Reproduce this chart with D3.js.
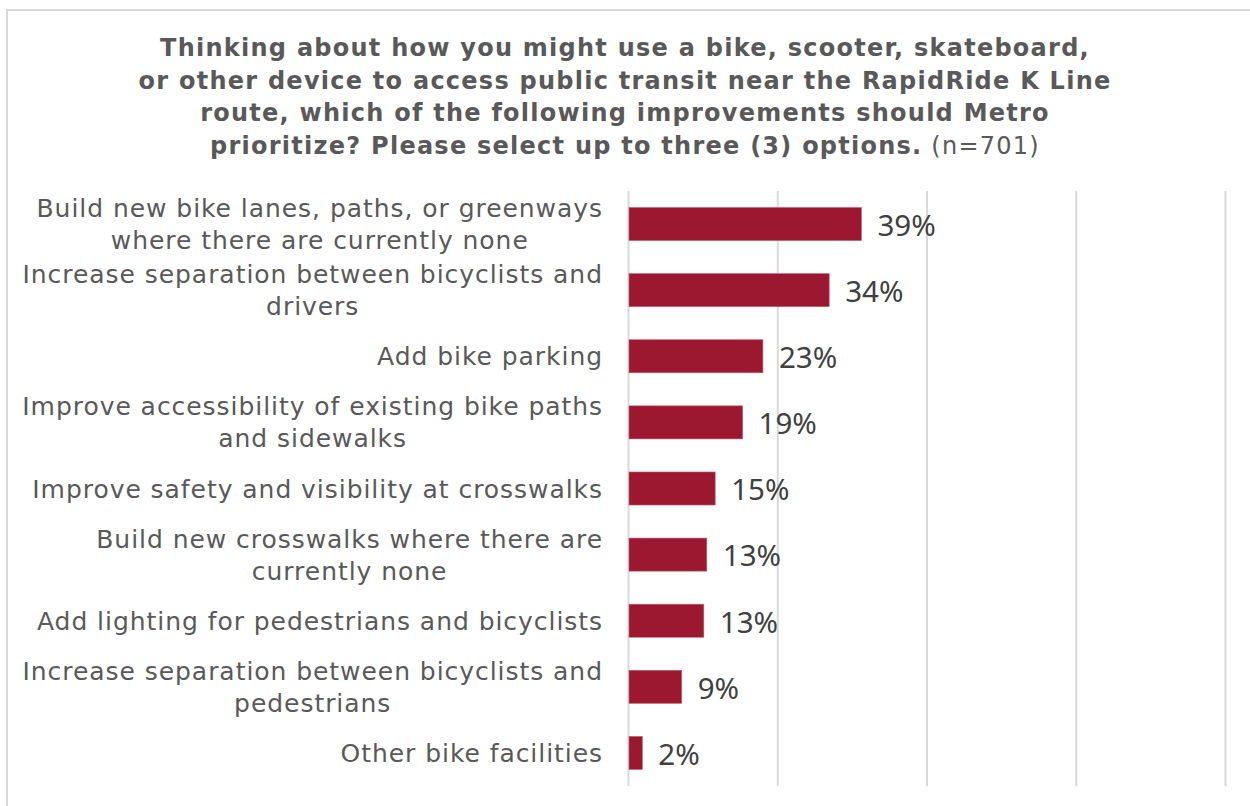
<!DOCTYPE html>
<html>
<head>
<meta charset="utf-8">
<script src="https://cdn.jsdelivr.net/npm/d3@7"></script>
<style>
  html, body { margin: 0; padding: 0; background: #fff; }
  svg { display: block; }
  .val { font-family: "Noto Sans", "Open Sans", sans-serif; font-size: 29.5px; fill: #404040; }
  .cat { font-family: "DejaVu Sans", Verdana, sans-serif; font-size: 25px; fill: #595959; letter-spacing: 0.95px; }
  .ttl { font-family: "DejaVu Sans", Verdana, sans-serif; font-size: 24px; fill: #595959; letter-spacing: 1.25px; }
</style>
</head>
<body>
<svg id="chart" width="1250" height="806"></svg>
<script>
// ---- data ----
const titleLines = [
  "Thinking about how you might use a bike, scooter, skateboard,",
  "or other device to access public transit near the RapidRide K Line",
  "route, which of the following improvements should Metro",
  "prioritize? Please select up to three (3) options."
];
const titleNote = "(n=701)";
const categories = [
  ["Build new bike lanes, paths, or greenways", "where there are currently none"],
  ["Increase separation between bicyclists and", "drivers"],
  ["Add bike parking"],
  ["Improve accessibility of existing bike paths", "and sidewalks"],
  ["Improve safety and visibility at crosswalks"],
  ["Build new crosswalks where there are", "currently none"],
  ["Add lighting for pedestrians and bicyclists"],
  ["Increase separation between bicyclists and", "pedestrians"],
  ["Other bike facilities"]
];
const values = [39.1, 33.7, 22.6, 19.2, 14.6, 13.2, 12.7, 9.0, 2.4];
const xTicks = [0, 25, 50, 75, 100];

// ---- layout ----
const svg = d3.select("#chart");
const plot = { left: 628, right: 1225, top: 191, bottom: 786 };
const barColor = "#9B1830";

// chart border
svg.append("rect")
  .attr("x", 7).attr("y", 10)
  .attr("width", 1260).attr("height", 820)
  .attr("fill", "none").attr("stroke", "#d9d9d9").attr("stroke-width", 2);

// title
const title = svg.append("text").attr("class", "ttl").attr("text-anchor", "middle");
titleLines.forEach((l, i) => {
  title.append("tspan").attr("x", 625).attr("y", 56 + i * 32.5)
    .attr("font-weight", "bold").text(l);
  if (i === titleLines.length - 1) {
    title.append("tspan").attr("font-weight", "normal").text(" " + titleNote);
  }
});

const x = d3.scaleLinear().domain([0, 100]).range([plot.left, plot.right]);
const y = d3.scaleBand().domain(d3.range(categories.length))
  .range([plot.top, plot.bottom]).paddingInner(0.5).paddingOuter(0.25);

// gridlines
const xAxis = d3.axisBottom(x).tickValues(xTicks).tickSize(-(plot.bottom - plot.top)).tickFormat("");
const gAxis = svg.append("g").attr("transform", `translate(0,${plot.bottom})`).call(xAxis);
gAxis.select(".domain").remove();
gAxis.selectAll(".tick line").attr("stroke", "#d9d9d9").attr("stroke-width", 2);

// bars
svg.append("g").selectAll("rect").data(values).join("rect")
  .attr("x", x(0) + 1)
  .attr("y", (d, i) => y(i))
  .attr("width", d => x(d) - x(0) - 1)
  .attr("height", y.bandwidth())
  .attr("fill", barColor)
  .attr("stroke", "#c06070").attr("stroke-width", 0.6);

// value labels
svg.append("g").selectAll("text").data(values).join("text")
  .attr("class", "val")
  .attr("x", d => x(d) + 16)
  .attr("y", (d, i) => y(i) + y.bandwidth() / 2)
  .attr("dy", "0.4em")
  .text(d => Math.round(d) + "%");

// category labels
const labelRight = 603;
const lineH = 32;
const gLab = svg.append("g");
categories.forEach((lines, i) => {
  const cy = y(i) + y.bandwidth() / 2;
  const t = gLab.append("text").attr("class", "cat").attr("text-anchor", "middle");
  const spans = lines.map((l, j) => t.append("tspan")
    .attr("y", cy + (j - (lines.length - 1) / 2) * lineH)
    .attr("dy", "0.36em").text(l));
  const w = d3.max(spans, s => s.node().getComputedTextLength());
  spans.forEach(s => s.attr("x", labelRight - w / 2));
});
</script>
</body>
</html>
